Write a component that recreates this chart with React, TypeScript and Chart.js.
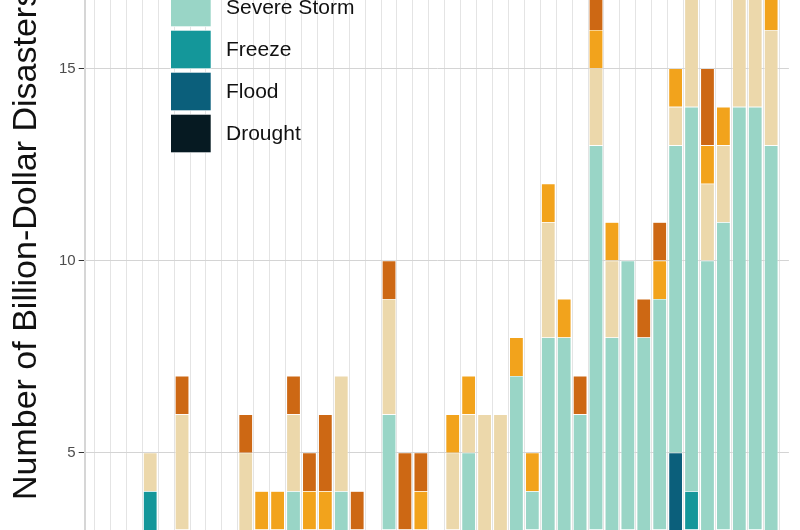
import React, { useEffect, useRef } from "react";
import { Chart, registerables } from "chart.js";

Chart.register(...registerables);

const years = [
  "1980", "1981", "1982", "1983", "1984", "1985", "1986", "1987", "1988", "1989",
  "1990", "1991", "1992", "1993", "1994", "1995", "1996", "1997", "1998", "1999",
  "2000", "2001", "2002", "2003", "2004", "2005", "2006", "2007", "2008", "2009",
  "2010", "2011", "2012", "2013", "2014", "2015", "2016", "2017", "2018", "2019",
  "2020", "2021", "2022",
];

const drought = [1,0,0,0,0,0,1,0,1,0, 0,0,0,1,0,0,1,0,1,1, 1,1,1,1,0,1,1,1,1,1, 0,1,1,1,1,1,1,1,1,0, 1,1,1];
const flood = [0,1,0,2,0,1,1,1,0,0, 1,1,1,1,2,1,1,1,1,1, 0,0,0,0,0,0,0,1,1,0, 1,2,0,2,1,2,4,2,0,3, 0,2,1];
const freeze = [0,1,0,2,0,1,0,0,0,1, 1,0,0,0,0,0,0,0,1,0, 0,0,0,0,0,0,0,1,0,0, 0,0,1,0,0,0,0,1,0,0, 0,0,0];
const severeStorm = [1,0,2,0,1,1,0,0,0,1, 1,2,3,1,1,3,1,2,3,1, 2,1,2,4,2,1,6,1,6,7, 5,10,6,7,6,6,8,10,9,8, 13,11,11];
const tropicalCyclone = [1,0,0,1,0,3,0,0,0,3, 0,0,2,0,0,3,0,0,3,0, 0,1,2,1,4,4,0,0,3,0, 0,2,2,0,0,0,1,3,2,2, 7,4,3];
const wildfire = [0,0,0,0,0,0,0,0,0,0, 1,1,0,1,1,0,0,0,0,0, 1,0,1,1,0,0,1,1,1,1, 0,1,1,0,0,1,1,1,1,1, 1,1,1];
const winterStorm = [0,0,1,0,1,1,0,0,0,1, 0,0,1,1,2,0,1,0,1,2, 1,0,0,0,0,0,0,0,0,0, 1,1,0,0,1,1,0,0,2,0, 0,1,1];

const yTicks = [5, 10, 15];
const yTitle = "Number of Billion-Dollar Disasters";

// bottom of stack first
const seriesNames = ["Drought", "Flood", "Freeze", "Severe Storm", "Tropical Cyclone", "Wildfire", "Winter Storm"];
const seriesValues = [drought, flood, freeze, severeStorm, tropicalCyclone, wildfire, winterStorm];
const seriesColors = ["#061a22", "#0b5f7b", "#14979a", "#99d5c6", "#ecd8ab", "#f2a31c", "#cd6814"];

const FONT = "'Liberation Sans', Arial, sans-serif";

const overlayPlugin = {
  id: "overlay",
  afterDraw(chart: any) {
    const ctx = chart.ctx as CanvasRenderingContext2D;
    ctx.save();
    // y-axis title
    ctx.translate(36, 500);
    ctx.rotate(-Math.PI / 2);
    ctx.font = `34px ${FONT}`;
    ctx.fillStyle = "#111111";
    ctx.textAlign = "left";
    ctx.textBaseline = "alphabetic";
    ctx.fillText(yTitle, 0, 0);
    ctx.restore();

    // legend (top to bottom = reverse stacking order)
    ctx.save();
    const order = [...seriesNames.keys()].reverse();
    const freezePos = order.indexOf(2);
    order.forEach((si, k) => {
      const top = 30.7 + (k - freezePos) * 42;
      ctx.fillStyle = "#ffffff";
      ctx.fillRect(170.5, top - 0.5, 40.7, 38.6);
      ctx.fillStyle = seriesColors[si];
      ctx.fillRect(171, top, 39.7, 37.6);
      ctx.font = `21px ${FONT}`;
      ctx.fillStyle = "#111111";
      ctx.textAlign = "left";
      ctx.textBaseline = "middle";
      ctx.fillText(seriesNames[si], 226, top + 19.5);
    });
    ctx.restore();
  },
};

export default function App() {
  const canvasRef = useRef<HTMLCanvasElement | null>(null);

  useEffect(() => {
    if (!canvasRef.current) return;
    const datasets = seriesNames.map((name, si) => ({
      label: name,
      data: seriesValues[si].map((v, i) => ({ x: i, y: v })),
      backgroundColor: seriesColors[si],
      borderColor: "rgba(255,255,255,0.85)",
      borderWidth: 0.6,
      barPercentage: 0.88,
      categoryPercentage: 1,
    }));
    const chart = new Chart(canvasRef.current, {
      type: "bar",
      data: { labels: years, datasets },
      plugins: [overlayPlugin],
      options: {
        animation: false,
        responsive: false,
        devicePixelRatio: 1,
        layout: { padding: { left: 0, right: 11.1, top: 0, bottom: 0 } },
        plugins: { legend: { display: false }, tooltip: { enabled: false } },
        scales: {
          x: {
            type: "linear",
            stacked: true,
            min: -0.6,
            max: 42.6,
            afterBuildTicks: (scale: any) => {
              scale.ticks = years.map((_, i) => ({ value: i }));
            },
            afterFit: (scale: any) => {
              scale.height = 0;
            },
            ticks: { display: false },
            grid: { color: "#e4e4e4", lineWidth: 1, drawTicks: false },
            border: { display: false },
          },
          y: {
            stacked: true,
            min: 2.99,
            max: 16.78,
            afterBuildTicks: (scale: any) => {
              scale.ticks = yTicks.map((v) => ({ value: v }));
            },
            afterFit: (scale: any) => {
              scale.width = 84.7;
              scale.paddingTop = 0;
              scale.paddingBottom = 0;
            },
            ticks: {
              color: "#4d4d4d",
              font: { family: FONT, size: 15 },
              padding: 3,
            },
            grid: {
              color: "#d4d4d4",
              lineWidth: 1,
              tickColor: "#333333",
              tickLength: 6,
              tickWidth: 1,
            },
            border: { display: true, color: "#d6d6d6", width: 2 },
          },
        },
      },
    } as any);
    return () => chart.destroy();
  }, []);

  return (
    <div style={{ position: "fixed", left: 0, top: 0, width: 800, height: 530, background: "#ffffff" }}>
      <canvas ref={canvasRef} width={800} height={530} style={{ display: "block" }} />
    </div>
  );
}
